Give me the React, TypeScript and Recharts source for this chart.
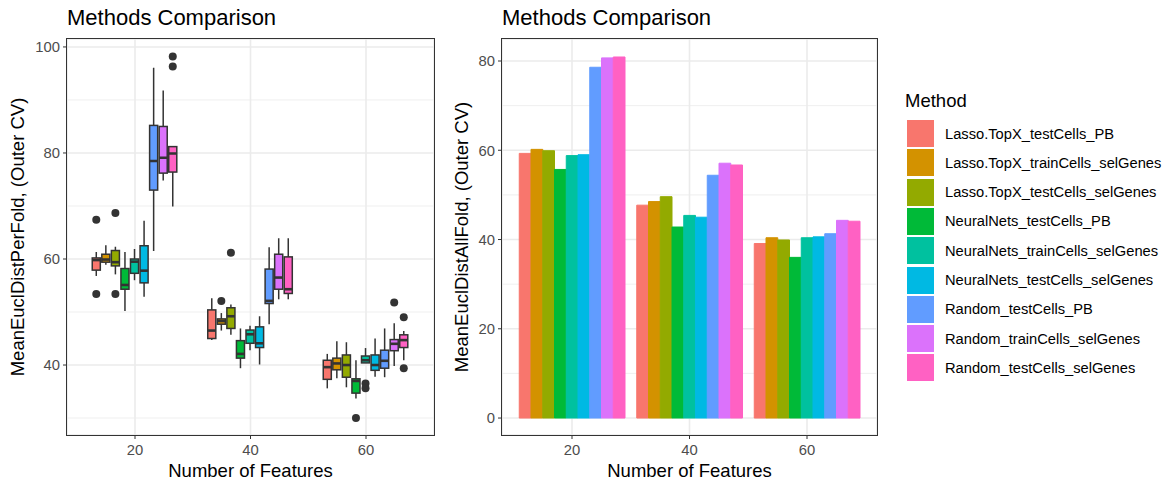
import { BarChart, Bar, XAxis, YAxis, CartesianGrid } from "recharts";

const features = ["20", "40", "60"];
const methods = [
  "Lasso.TopX_testCells_PB",
  "Lasso.TopX_trainCells_selGenes",
  "Lasso.TopX_testCells_selGenes",
  "NeuralNets_testCells_PB",
  "NeuralNets_trainCells_selGenes",
  "NeuralNets_testCells_selGenes",
  "Random_testCells_PB",
  "Random_trainCells_selGenes",
  "Random_testCells_selGenes",
];
const colors = ["#F8766D", "#D39200", "#93AA00", "#00BA38", "#00C19F", "#00B9E3", "#619CFF", "#DB72FB", "#FF61C3"];

// per-fold boxplot stats for 20 / 40 / 60 features: [lower whisker, Q1, median, Q3, upper whisker]
const lassoTestPB = [[56.8, 57.9, 59.8, 60.2, 61.3], [44.7, 45.0, 46.5, 50.4, 52.6], [35.6, 37.3, 39.6, 40.9, 42.1]];
const lassoTrainSel = [[58.9, 59.4, 59.9, 60.9, 62.6], [46.5, 47.7, 48.3, 48.7, 49.8], [37.5, 39.1, 40.3, 41.3, 44.5]];
const lassoTestSel = [[57.1, 58.7, 59.4, 61.6, 62.3], [45.7, 46.9, 49.2, 50.8, 51.4], [35.8, 37.7, 40.0, 41.9, 44.3]];
const nnTestPB = [[50.2, 54.3, 55.1, 58.2, 61.3], [39.4, 41.3, 42.1, 44.6, 46.9], [33.7, 34.7, 37.0, 37.4, 40.9]];
const nnTrainSel = [[56.0, 57.3, 59.5, 60.0, 61.9], [42.8, 44.1, 45.8, 46.6, 47.4], [40.4, 40.4, 40.9, 41.7, 43.2]];
const nnTestSel = [[52.9, 55.5, 57.8, 62.5, 67.2], [40.1, 43.3, 44.1, 47.2, 49.2], [37.8, 39.0, 40.0, 41.9, 45.0]];
const rndTestPB = [[61.5, 73.0, 78.5, 85.2, 96.1], [47.7, 51.6, 52.1, 58.1, 62.2], [37.7, 39.4, 40.8, 42.8, 46.9]];
const rndTrainSel = [[74.8, 76.2, 79.1, 85.0, 91.8], [52.4, 54.3, 56.5, 60.9, 63.9], [39.8, 42.7, 44.0, 44.8, 47.9]];
const rndTestSel = [[69.9, 76.4, 79.9, 81.2, 81.2], [52.4, 53.5, 54.3, 60.4, 63.9], [40.9, 43.3, 44.7, 45.7, 46.4]];

// outlier points, same order
const lassoTestPBOut = [[67.4, 53.4], [], []];
const lassoTrainSelOut = [[], [52.1], []];
const lassoTestSelOut = [[68.7, 53.4], [61.2], []];
const nnTestPBOut = [[], [], [30.0]];
const nnTrainSelOut = [[], [], [36.5, 35.6]];
const nnTestSelOut = [[], [], []];
const rndTestPBOut = [[], [], []];
const rndTrainSelOut = [[], [], [51.8]];
const rndTestSelOut = [[98.2, 96.3], [], [49.0, 39.4]];

// mean distance over all folds, one value per method
const meanAt20 = [59.3, 60.2, 59.9, 55.7, 58.8, 59.0, 78.6, 80.7, 80.9];
const meanAt40 = [47.7, 48.5, 49.6, 42.8, 45.4, 45.0, 54.4, 57.1, 56.7];
const meanAt60 = [39.1, 40.4, 39.9, 36.0, 40.4, 40.6, 41.3, 44.3, 44.1];

const perFoldTicks = [40, 60, 80, 100];
const perFoldMinor = [30, 50, 70, 90];
const allFoldTicks = [0, 20, 40, 60, 80];
const allFoldMinor = [10, 30, 50, 70];

const methodBoxes = [lassoTestPB, lassoTrainSel, lassoTestSel, nnTestPB, nnTrainSel, nnTestSel, rndTestPB, rndTrainSel, rndTestSel];
const methodOutliers = [lassoTestPBOut, lassoTrainSelOut, lassoTestSelOut, nnTestPBOut, nnTrainSelOut, nnTestSelOut, rndTestPBOut, rndTrainSelOut, rndTestSelOut];
const meansByFeature = [meanAt20, meanAt40, meanAt60];

const INK = "#333333";
const GRID = "#EBEBEB";
const FONT = "'Liberation Sans', Arial, sans-serif";
const tickStyle = { fill: "#4D4D4D", fontSize: 14.8, fontFamily: FONT };

const boxRows = features.map((f, fi) => {
  const row: any = { feature: f };
  methodBoxes.forEach((b, mi) => {
    row[`m${mi}`] = [b[fi][1], b[fi][3]];
  });
  return row;
});

const meanRows = features.map((f, fi) => {
  const row: any = { feature: f };
  meansByFeature[fi].forEach((v, mi) => {
    row[`m${mi}`] = v;
  });
  return row;
});

// box drawn from the Q1..Q3 bar; other stats mapped through the same y scale
function BoxShape(props: any) {
  const { x, y, width, height, payload, mi } = props;
  const fi = features.indexOf(payload.feature);
  const [lo, q1, med, q3, hi] = methodBoxes[mi][fi];
  const top = Math.min(y, y + height);
  const bottom = Math.max(y, y + height);
  const k = (bottom - top) / (q3 - q1);
  const toY = (v: number) => bottom - (v - q1) * k;
  const cx = x + width / 2;
  return (
    <g>
      <line x1={cx} x2={cx} y1={toY(hi)} y2={top} stroke={INK} strokeWidth={1.5} />
      <line x1={cx} x2={cx} y1={bottom} y2={toY(lo)} stroke={INK} strokeWidth={1.5} />
      <rect x={x} y={top} width={width} height={bottom - top} fill={colors[mi]} stroke={INK} strokeWidth={1.5} />
      <line x1={x} x2={x + width} y1={toY(med)} y2={toY(med)} stroke={INK} strokeWidth={2.6} />
      {methodOutliers[mi][fi].map((v, j) => (
        <circle key={j} cx={cx} cy={toY(v)} r={4} fill={INK} />
      ))}
    </g>
  );
}

function Txt({ x, y, size, children, color = "#000", anchor = "left" }: any) {
  // y is the text baseline
  return (
    <div
      style={{
        position: "absolute",
        left: x,
        top: y - size * 0.85,
        fontSize: size,
        lineHeight: 1,
        color,
        whiteSpace: "nowrap",
        transform: anchor === "middle" ? "translateX(-50%)" : undefined,
      }}
    >
      {children}
    </div>
  );
}

function YTitle({ x, y, children }: any) {
  return (
    <div
      style={{
        position: "absolute",
        left: x,
        top: y,
        fontSize: 18.5,
        lineHeight: 1,
        whiteSpace: "nowrap",
        transform: "translate(-50%, -50%) rotate(-90deg)",
      }}
    >
      {children}
    </div>
  );
}

function Border({ x, y, w, h }: any) {
  return (
    <div
      style={{
        position: "absolute",
        left: x - 0.75,
        top: y - 0.75,
        width: w + 1.5,
        height: h + 1.5,
        boxSizing: "border-box",
        border: `1.5px solid ${INK}`,
        pointerEvents: "none",
      }}
    />
  );
}

export default function App() {
  return (
    <div style={{ position: "absolute", left: 0, top: 0, width: 1169, height: 482, background: "#fff", fontFamily: FONT, overflow: "hidden" }}>
      <Txt x={67} y={26} size={22}>Methods Comparison</Txt>
      <Txt x={502} y={26} size={22}>Methods Comparison</Txt>

      <div style={{ position: "absolute", left: 0, top: 30 }}>
        <BarChart width={440} height={438} data={boxRows} margin={{ top: 9, right: 6, left: 0, bottom: 0 }} barGap={1.5}>
          <CartesianGrid vertical={false} horizontalValues={perFoldMinor} stroke={GRID} strokeWidth={0.8} />
          <CartesianGrid stroke={GRID} strokeWidth={1.6} />
          <XAxis dataKey="feature" type="category" padding={{ left: 10.25, right: 10.25 }} axisLine={false} tickSize={4} tickMargin={5} tickLine={{ stroke: INK }} tick={tickStyle} height={33} />
          <YAxis type="number" domain={[26.8, 101.5]} ticks={perFoldTicks} allowDataOverflow axisLine={false} tickSize={4} tickMargin={3} tickLine={{ stroke: INK }} tick={tickStyle} width={67} />
          {methods.map((m, i) => (
            <Bar key={m} dataKey={`m${i}`} name={m} barSize={8.06} fill={colors[i]} isAnimationActive={false} shape={(p: any) => <BoxShape {...p} mi={i} />} />
          ))}
        </BarChart>
      </div>
      <Border x={67} y={39} w={367} h={396} />

      <div style={{ position: "absolute", left: 440, top: 30 }}>
        <BarChart width={440} height={438} data={meanRows} margin={{ top: 9, right: 3, left: 0, bottom: 0 }} barGap={0}>
          <CartesianGrid vertical={false} horizontalValues={allFoldMinor} stroke={GRID} strokeWidth={0.8} />
          <CartesianGrid stroke={GRID} strokeWidth={1.6} />
          <XAxis dataKey="feature" type="category" padding={{ left: 11.25, right: 11.25 }} axisLine={false} tickSize={4} tickMargin={5} tickLine={{ stroke: INK }} tick={tickStyle} height={33} />
          <YAxis type="number" domain={[-3.8, 84.93]} ticks={allFoldTicks} allowDataOverflow axisLine={false} tickSize={4} tickMargin={3} tickLine={{ stroke: INK }} tick={tickStyle} width={62} />
          {methods.map((m, i) => (
            <Bar key={m} dataKey={`m${i}`} name={m} barSize={11.75} fill={colors[i]} stroke={colors[i]} strokeWidth={1} isAnimationActive={false} />
          ))}
        </BarChart>
      </div>
      <Border x={502} y={39} w={375} h={396} />

      <YTitle x={18} y={237}>MeanEuclDistPerFold, (Outer CV)</YTitle>
      <YTitle x={462} y={237}>MeanEuclDistAllFold, (Outer CV)</YTitle>
      <Txt x={250.5} y={478} size={18.5} anchor="middle">Number of Features</Txt>
      <Txt x={689.5} y={478} size={18.5} anchor="middle">Number of Features</Txt>

      <Txt x={905} y={108} size={18.5}>Method</Txt>
      {methods.map((m, i) => (
        <div key={m}>
          <div style={{ position: "absolute", left: 907, top: 120 + i * 29.3, width: 27, height: 27, background: colors[i] }} />
          <Txt x={945} y={139 + i * 29.3} size={14.7}>{m}</Txt>
        </div>
      ))}
    </div>
  );
}
